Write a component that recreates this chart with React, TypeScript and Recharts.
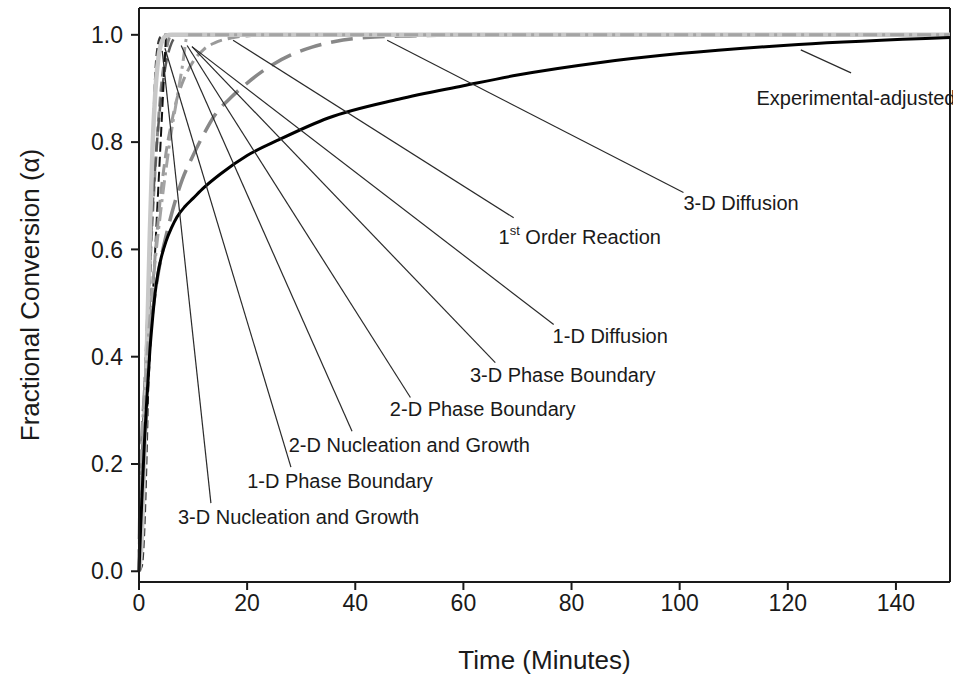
import { LineChart, Line, XAxis, YAxis, ReferenceLine, ReferenceDot } from "recharts";

const FONT = '"Liberation Sans", Arial, Helvetica, sans-serif';
const INK = "#1a1a1a";

// Experimental-adjusted conversion (thick black)
const expTime = [0, 0.3, 0.6, 1, 1.5, 2, 2.5, 3, 3.5, 4, 5, 6, 7, 8.5, 10, 12, 15, 20, 26, 35, 48, 60, 70, 85, 100, 122, 150];
const expAlpha = [0, 0.08, 0.15, 0.24, 0.33, 0.41, 0.47, 0.52, 0.555, 0.58, 0.615, 0.64, 0.66, 0.68, 0.695, 0.715, 0.74, 0.775, 0.805, 0.845, 0.88, 0.905, 0.925, 0.948, 0.965, 0.982, 0.995];

// Kinetic model curves
const nuc3Time = [0, 0.5, 1, 1.5, 2, 2.5, 3, 3.5, 4, 5, 150];
const nuc3Alpha = [0, 0.01, 0.09, 0.27, 0.53, 0.77, 0.92, 0.98, 0.996, 1, 1];

const nuc2Time = [0, 0.5, 1, 1.5, 2, 2.5, 3, 3.5, 4, 5, 6, 150];
const nuc2Alpha = [0, 0.06, 0.22, 0.43, 0.63, 0.79, 0.89, 0.95, 0.98, 0.998, 1, 1];

const pb1Time = [0, 1, 2, 3, 4, 5, 150];
const pb1Alpha = [0, 0.2, 0.4, 0.6, 0.8, 1, 1];

const pb2Time = [0, 1, 2, 3, 4, 5, 6, 150];
const pb2Alpha = [0, 0.31, 0.56, 0.75, 0.89, 0.97, 1, 1];

const pb3Time = [0, 1, 2, 3, 4, 5, 6, 7, 8, 150];
const pb3Alpha = [0, 0.33, 0.58, 0.755, 0.875, 0.947, 0.984, 0.998, 1, 1];

const diff1Time = [0, 0.25, 0.5, 1, 2, 3, 4, 5, 6, 7, 8, 9, 150];
const diff1Alpha = [0, 0.17, 0.24, 0.33, 0.47, 0.58, 0.67, 0.75, 0.82, 0.88, 0.94, 1, 1];

const firstTime = [0, 0.5, 1, 1.5, 2, 3, 4, 5, 6, 7, 8, 10, 12, 14, 17, 20, 25, 150];
const firstAlpha = [0, 0.14, 0.26, 0.36, 0.45, 0.59, 0.7, 0.78, 0.835, 0.88, 0.91, 0.95, 0.973, 0.985, 0.994, 0.998, 1, 1];

const diff3Time = [0, 0.25, 0.5, 1, 2, 3, 4, 5, 6, 7, 8, 10, 12, 14, 17, 20, 24, 28, 32, 36, 42, 50, 64, 150];
const diff3Alpha = [0, 0.17, 0.24, 0.33, 0.44, 0.52, 0.58, 0.625, 0.665, 0.7, 0.73, 0.775, 0.815, 0.85, 0.883, 0.91, 0.94, 0.962, 0.977, 0.987, 0.995, 0.998, 1, 1];

const xTicks = [0, 20, 40, 60, 80, 100, 120, 140];
const yTicks = [0, 0.2, 0.4, 0.6, 0.8, 1.0];

// callout text: [label, text x, text baseline y, leader bottom x, y, leader top x, y]
const callouts: [string, number, number, number, number, number, number][] = [
  ["Experimental-adjusted", 114.2, 0.87, 131.7, 0.929, 122.4, 0.972],
  ["3-D Diffusion", 100.7, 0.674, 100.7, 0.706, 45.9, 0.99],
  ["1st Order Reaction", 66.5, 0.611, 69.3, 0.659, 17.4, 0.99],
  ["1-D Diffusion", 76.5, 0.425, 76.7, 0.46, 9.8, 0.978],
  ["3-D Phase Boundary", 61.2, 0.352, 65.9, 0.389, 9.8, 0.978],
  ["2-D Phase Boundary", 46.4, 0.289, 50.2, 0.324, 8.9, 0.98],
  ["2-D Nucleation and Growth", 27.7, 0.223, 39.4, 0.261, 7.8, 0.98],
  ["1-D Phase Boundary", 20.0, 0.156, 28.1, 0.194, 4.8, 0.975],
  ["3-D Nucleation and Growth", 7.2, 0.088, 13.3, 0.127, 4.3, 0.97],
];

const pts = (t: number[], a: number[]) => t.map((v, i) => ({ t: v, a: a[i] }));

// dark dashed models first, light grey ones over them so the 1.0 plateau reads light
const series = [
  { key: "pb2", data: pts(pb2Time, pb2Alpha), stroke: "#8a8a8a", width: 3, dash: "10 5", type: "monotone" },
  { key: "pb3", data: pts(pb3Time, pb3Alpha), stroke: "#5a5a5a", width: 2.5, dash: "14 6", type: "monotone" },
  { key: "nuc3", data: pts(nuc3Time, nuc3Alpha), stroke: "#3a3a3a", width: 2.5, dash: "8 4", type: "monotone" },
  { key: "pb1", data: pts(pb1Time, pb1Alpha), stroke: "#111111", width: 2, dash: "10 5", type: "linear" },
  { key: "first", data: pts(firstTime, firstAlpha), stroke: "#9a9a9a", width: 3, dash: "12 6", type: "monotone" },
  { key: "diff3", data: pts(diff3Time, diff3Alpha), stroke: "#888888", width: 3.5, dash: "22 10", type: "monotone" },
  { key: "nuc2", data: pts(nuc2Time, nuc2Alpha), stroke: "#c8c8c8", width: 4.5, dash: undefined, type: "monotone" },
  { key: "diff1", data: pts(diff1Time, diff1Alpha), stroke: "#a4a4a4", width: 3, dash: "14 5 3 5", type: "monotone" },
  { key: "exp", data: pts(expTime, expAlpha), stroke: "#000000", width: 3, dash: undefined, type: "monotone" },
];

function CalloutText({ cx, cy, text }: { cx?: number; cy?: number; text: string }) {
  const style = { fontFamily: FONT, fontSize: 20, fill: INK };
  if (text.startsWith("1st")) {
    return (
      <text x={cx} y={cy} style={style}>
        <tspan>1</tspan>
        <tspan dy={-9} fontSize={13}>st</tspan>
        <tspan dy={9}> Order Reaction</tspan>
      </text>
    );
  }
  return (
    <text x={cx} y={cy} style={style}>
      {text}
    </text>
  );
}

export default function App() {
  const tickStyle = { fontFamily: FONT, fontSize: 23, fill: INK };
  return (
    <div style={{ position: "absolute", left: 0, top: 0, width: 953, height: 674, background: "#fff" }}>
      <LineChart width={953} height={674} margin={{ top: 8, right: 3, left: 0, bottom: 0 }}>
        <XAxis
          type="number"
          dataKey="t"
          domain={[0, 150]}
          ticks={xTicks}
          allowDuplicatedCategory={false}
          height={92}
          tick={tickStyle}
          tickSize={8}
          tickMargin={5}
          stroke={INK}
          strokeWidth={2}
          label={{
            value: "Time (Minutes)",
            position: "insideBottom",
            offset: 5,
            style: { fontFamily: FONT, fontSize: 26, fill: INK },
          }}
        />
        <YAxis
          type="number"
          dataKey="a"
          domain={[-0.02, 1.05]}
          ticks={yTicks}
          width={139}
          tick={tickStyle}
          tickSize={8}
          tickMargin={8}
          tickFormatter={(v: number) => v.toFixed(1)}
          stroke={INK}
          strokeWidth={2}
          label={{
            value: "Fractional Conversion (α)",
            angle: -90,
            position: "insideLeft",
            offset: 30,
            style: { fontFamily: FONT, fontSize: 26, fill: INK, textAnchor: "middle" },
          }}
        />
        {/* frame on top and right */}
        <ReferenceLine y={1.05} stroke={INK} strokeWidth={2} />
        <ReferenceLine x={150} stroke={INK} strokeWidth={2} />

        {series.map((s) => (
          <Line
            key={s.key}
            data={s.data}
            dataKey="a"
            type={s.type as "monotone" | "linear"}
            stroke={s.stroke}
            strokeWidth={s.width}
            strokeDasharray={s.dash}
            dot={false}
            activeDot={false}
            isAnimationActive={false}
          />
        ))}

        {callouts.map(([text, , , bx, by, tx, ty]) => (
          <ReferenceLine
            key={"lead-" + text}
            segment={[
              { x: tx, y: ty },
              { x: bx, y: by },
            ]}
            stroke="#2a2a2a"
            strokeWidth={1.2}
          />
        ))}
        {callouts.map(([text, lx, ly]) => (
          <ReferenceDot
            key={"lbl-" + text}
            x={lx}
            y={ly}
            r={0}
            shape={(p: any) => <CalloutText cx={p.cx} cy={p.cy} text={text} />}
          />
        ))}
      </LineChart>
    </div>
  );
}
